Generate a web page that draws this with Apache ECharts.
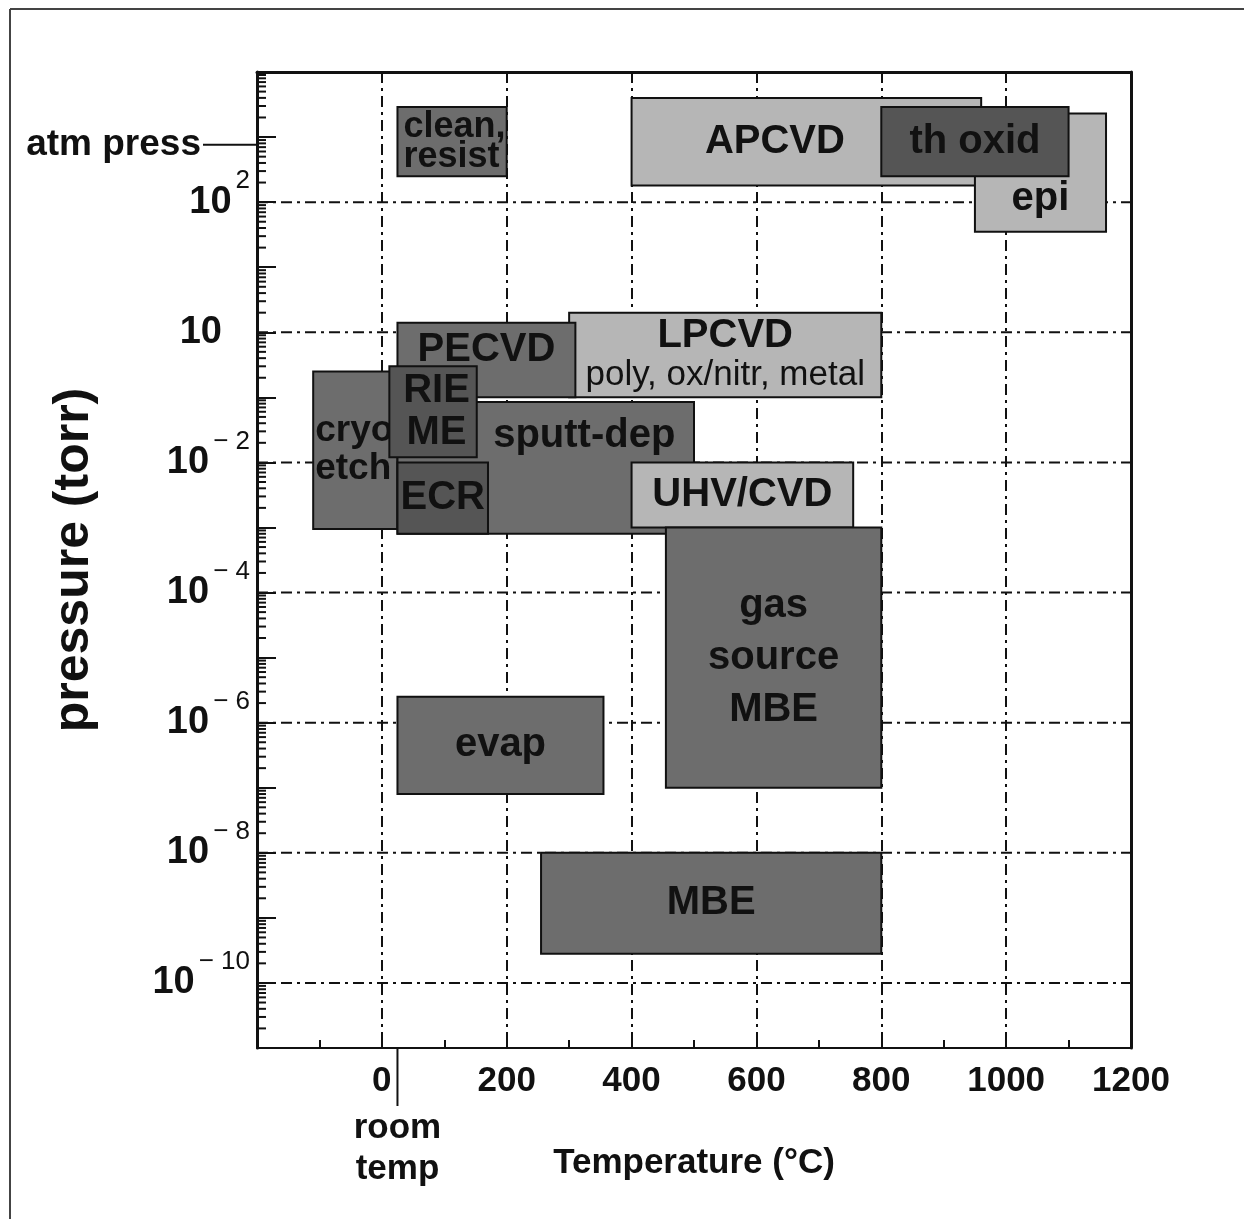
<!DOCTYPE html>
<html>
<head>
<meta charset="utf-8">
<title>Process windows: pressure vs temperature</title>
<script src="https://cdn.jsdelivr.net/npm/echarts@6/dist/echarts.min.js"></script>
<style>
  html, body { margin: 0; padding: 0; background: #fff; }
  #chart { width: 1244px; height: 1219px; }
</style>
</head>
<body>
<div id="chart"></div>
<script>
// Process windows: temperature span (°C) and pressure span (torr)
const processNames = ['clean, resist', 'APCVD', 'epi', 'th oxid', 'LPCVD', 'PECVD', 'cryo etch',
  'sputt-dep', 'RIE/ME', 'ECR', 'UHV/CVD', 'gas source MBE', 'evap', 'MBE'];
const boxLabels = ['clean,\nresist', 'APCVD', 'epi', 'th oxid', '{big|LPCVD}\n{small|poly, ox/nitr, metal}',
  'PECVD', 'cryo\netch', 'sputt-dep', 'RIE\nME', 'ECR', 'UHV/CVD', 'gas\nsource\nMBE', 'evap', 'MBE'];
const tempLow   = [25, 400, 950, 800, 300, 25, -110, 25, 12, 25, 400, 455, 25, 255];
const tempHigh  = [200, 960, 1160, 1100, 800, 310, 25, 500, 152, 170, 755, 800, 355, 800];
const pressLow  = [250, 180, 35, 250, 0.1, 0.1, 9.5e-4, 8e-4, 0.012, 8e-4, 1e-3, 1e-7, 8e-8, 2.8e-10];
const pressHigh = [2900, 4000, 2300, 2900, 2, 1.4, 0.25, 0.085, 0.3, 0.01, 1e-2, 1e-3, 2.5e-6, 1e-8];

// Axis setup
const tempMin = -200, tempMax = 1200, tempStep = 200;
const decadeMin = -11, decadeMax = 4;               // pressure axis in powers of ten
const labelledDecades = [2, 0, -2, -4, -6, -8, -10];  // labelled decades with grid lines
const atmPressure = 760;                              // torr
const roomTemp = 25;                                  // °C

const FONT = "'Liberation Sans', Arial, Helvetica, sans-serif";
const INK = '#111';

// Fill tones of the boxes
const tone = { dark: '#6d6d6d', darker: '#555555', light: '#b6b6b6' };
const boxTone = {
  'clean, resist': 'dark', 'APCVD': 'light', 'epi': 'light', 'th oxid': 'darker', 'LPCVD': 'light',
  'PECVD': 'dark', 'cryo etch': 'dark', 'sputt-dep': 'dark', 'RIE/ME': 'darker', 'ECR': 'darker',
  'UHV/CVD': 'light', 'gas source MBE': 'dark', 'evap': 'dark', 'MBE': 'dark'
};
// Placement of each label inside its box (fractions of box size)
const labelPlace = {
  'clean, resist': { align: 'left', pad: 6, size: 36, lh: 30, clip: true },
  'APCVD': { fx: 0.41 },
  'epi': { fy: 0.72 },
  'PECVD': { fy: 0.36 },
  'cryo etch': { align: 'left', pad: 2, size: 37, lh: 38 },
  'sputt-dep': { fx: 0.63, fy: 0.26 },
  'RIE/ME': { fx: 0.54, lh: 42 },
  'gas source MBE': { lh: 52 }
};

const boxData = processNames.map((n, i) => [tempLow[i], tempHigh[i], Math.log10(pressLow[i]), Math.log10(pressHigh[i])]);

function renderBox(params, api) {
  const i = params.dataIndex;
  const name = processNames[i];
  const tl = api.coord([api.value(0), api.value(3)]);
  const br = api.coord([api.value(1), api.value(2)]);
  const x = tl[0], y = tl[1], w = br[0] - tl[0], h = br[1] - tl[1];
  const lp = labelPlace[name] || {};
  const align = lp.align || 'center';
  const tx = align === 'left' ? x + lp.pad : x + w * (lp.fx != null ? lp.fx : 0.5);
  const ty = y + h * (lp.fy != null ? lp.fy : 0.5);
  const size = lp.size || 40;
  const textEl = {
    type: 'text',
    z2: i * 2 + 1,
    style: {
      x: tx, y: ty,
      text: boxLabels[i],
      fill: INK,
      fontFamily: FONT, fontWeight: 'bold', fontSize: size,
      lineHeight: lp.lh || size,
      align: align, verticalAlign: 'middle',
      rich: {
        big: { fontFamily: FONT, fontWeight: 'bold', fontSize: 40, lineHeight: 40, fill: INK },
        small: { fontFamily: FONT, fontWeight: 'normal', fontSize: 35, lineHeight: 38, fill: INK }
      }
    }
  };
  if (lp.clip) {
    textEl.clipPath = { type: 'rect', shape: { x: x, y: y, width: w, height: h } };
  }
  return {
    type: 'group',
    children: [
      {
        type: 'rect', z2: i * 2,
        shape: { x: x, y: y, width: w, height: h },
        style: { fill: tone[boxTone[name]], stroke: INK, lineWidth: 2 }
      },
      textEl
    ]
  };
}

// Horizontal dash-dot grid lines at labelled decades
function renderGridLine(params, api) {
  const cs = params.coordSys;
  const yy = api.coord([0, api.value(1)])[1];
  return {
    type: 'line',
    shape: { x1: cs.x, y1: yy, x2: cs.x + cs.width, y2: yy },
    style: { stroke: INK, lineWidth: 2, lineDash: [11, 5, 3, 5] }
  };
}

// Logarithmic minor ticks (2..9 within each decade) on the pressure axis
const minorTickValues = [];
for (let d = decadeMin; d < decadeMax; d++) {
  for (let k = 2; k <= 9; k++) minorTickValues.push([0, d + Math.log10(k)]);
}
function renderMinorTick(params, api) {
  const cs = params.coordSys;
  const yy = api.coord([0, api.value(1)])[1];
  return {
    type: 'line',
    shape: { x1: cs.x, y1: yy, x2: cs.x + 9, y2: yy },
    style: { stroke: INK, lineWidth: 2 }
  };
}

// Reference marks outside the plot: atmospheric pressure and room temperature
function renderAtm(params, api) {
  const cs = params.coordSys;
  const yy = api.coord([0, api.value(1)])[1];
  return {
    type: 'group',
    children: [
      { type: 'line', shape: { x1: cs.x - 54, y1: yy, x2: cs.x, y2: yy }, style: { stroke: INK, lineWidth: 2 } },
      { type: 'text', style: { x: cs.x - 56, y: yy, text: 'atm press', fill: INK, fontFamily: FONT,
          fontWeight: 'bold', fontSize: 37, align: 'right', verticalAlign: 'middle' } }
    ]
  };
}
function renderRoom(params, api) {
  const cs = params.coordSys;
  const xx = api.coord([api.value(0), decadeMin])[0];
  const yb = cs.y + cs.height;
  return {
    type: 'group',
    children: [
      { type: 'line', shape: { x1: xx, y1: yb, x2: xx, y2: yb + 58 }, style: { stroke: INK, lineWidth: 2 } },
      { type: 'text', style: { x: xx, y: yb + 60, text: 'room\ntemp', fill: INK, fontFamily: FONT,
          fontWeight: 'bold', fontSize: 35, lineHeight: 41, align: 'center', verticalAlign: 'top' } }
    ]
  };
}

function pressureLabel(v) {
  if (labelledDecades.indexOf(v) < 0) return '';
  if (v === 0) return '{b|10}{pad| }';
  return '{b|10}{s|' + (v < 0 ? '\u2212 ' + (-v) : String(v)) + '}';
}

const chart = echarts.init(document.getElementById('chart'), null, { renderer: 'canvas' });

chart.setOption({
  animation: false,
  backgroundColor: '#fff',
  graphic: [
    { type: 'line', silent: true, shape: { x1: 10, y1: 9, x2: 10, y2: 1219 }, style: { stroke: '#444', lineWidth: 2 } },
    { type: 'line', silent: true, shape: { x1: 10, y1: 9, x2: 1244, y2: 9 }, style: { stroke: '#444', lineWidth: 2 } }
  ],
  grid: { left: 257, right: 113, top: 72, bottom: 171, containLabel: false, outerBoundsMode: 'none' },
  xAxis: [
    {
      type: 'value', position: 'bottom', min: tempMin, max: tempMax, interval: tempStep,
      name: 'Temperature (°C)', nameLocation: 'middle', nameGap: 98, nameMoveOverlap: false,
      nameTextStyle: { fontFamily: FONT, fontWeight: 'bold', fontSize: 35, color: INK },
      axisLine: { show: true, onZero: false, lineStyle: { color: INK, width: 2 } },
      axisTick: { show: true, inside: true, length: 8, lineStyle: { color: INK, width: 2 } },
      minorTick: { show: true, splitNumber: 2, length: 8, lineStyle: { color: INK, width: 2 } },
      axisLabel: {
        margin: 16, fontFamily: FONT, fontWeight: 'bold', fontSize: 35, color: INK,
        formatter: v => (v === tempMin ? '' : String(v))
      },
      splitLine: { show: true, lineStyle: { color: INK, width: 2, type: [11, 5, 3, 5] } }
    },
    {
      type: 'value', position: 'top', min: tempMin, max: tempMax, interval: tempStep,
      axisLine: { show: true, onZero: false, lineStyle: { color: INK, width: 3 } },
      axisTick: { show: true, inside: true, length: 6, lineStyle: { color: INK, width: 2 } },
      axisLabel: { show: false },
      splitLine: { show: false }
    }
  ],
  yAxis: [
    {
      type: 'value', position: 'left', min: decadeMin, max: decadeMax, interval: 1,
      name: 'pressure (torr)', nameLocation: 'middle', nameGap: 158, nameRotate: 90, nameMoveOverlap: false,
      nameTextStyle: { fontFamily: FONT, fontWeight: 'bold', fontSize: 50, color: INK },
      axisLine: { show: true, onZero: false, lineStyle: { color: INK, width: 3 } },
      axisTick: { show: true, inside: true, length: 19, lineStyle: { color: INK, width: 2 } },
      axisLabel: {
        margin: 7, color: INK, formatter: pressureLabel,
        rich: {
          b: { fontFamily: FONT, fontWeight: 'bold', fontSize: 38, lineHeight: 68, color: INK },
          s: { fontFamily: FONT, fontWeight: 'normal', fontSize: 26, lineHeight: 26, verticalAlign: 'top',
               padding: [0, 0, 0, 4], color: INK },
          pad: { width: 28, fontSize: 20 }
        }
      },
      splitLine: { show: false }
    },
    {
      type: 'value', position: 'right', min: decadeMin, max: decadeMax, interval: 1,
      axisLine: { show: true, onZero: false, lineStyle: { color: INK, width: 3 } },
      axisTick: { show: false },
      axisLabel: { show: false },
      splitLine: { show: false }
    }
  ],
  series: [
    {
      type: 'custom', z: 1, silent: true, xAxisIndex: 0, yAxisIndex: 0,
      data: labelledDecades.map(d => [0, d]),
      renderItem: renderGridLine
    },
    {
      type: 'custom', z: 2, silent: true, xAxisIndex: 0, yAxisIndex: 0,
      data: boxData,
      encode: { x: [0, 1], y: [2, 3] },
      renderItem: renderBox
    },
    {
      type: 'custom', z: 3, silent: true, xAxisIndex: 0, yAxisIndex: 0,
      data: minorTickValues,
      renderItem: renderMinorTick
    },
    {
      type: 'custom', z: 3, silent: true, clip: false, xAxisIndex: 0, yAxisIndex: 0,
      data: [[tempMin, Math.log10(atmPressure)]],
      renderItem: renderAtm
    },
    {
      type: 'custom', z: 3, silent: true, clip: false, xAxisIndex: 0, yAxisIndex: 0,
      data: [[roomTemp, decadeMin]],
      renderItem: renderRoom
    }
  ]
});
</script>
</body>
</html>
